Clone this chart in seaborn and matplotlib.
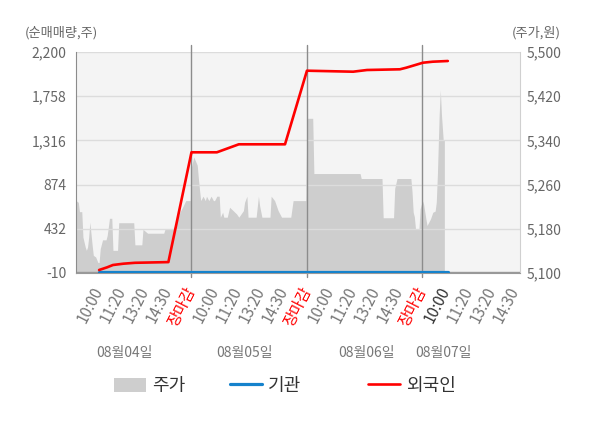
import numpy as np
import pandas as pd
import matplotlib
matplotlib.use("Agg")
import matplotlib.pyplot as plt
import seaborn as sns

# x axis: slot index, 100 slots per trading day (day 1 = 0..100, day 2 = 100..200, ...)
price_x = [0, 2, 3, 5, 6, 8, 9, 10, 11, 12, 13, 14, 15, 17, 19, 20, 21, 23, 26, 27,
           28, 29, 31, 32, 36, 37, 50, 51, 57, 58, 62, 76, 77, 84, 87, 90, 93, 95, 99,
           100, 102, 105, 106, 107, 108, 110, 112, 113, 115, 117, 119, 120, 122, 124,
           125, 127, 128, 131, 133, 136, 139, 141, 145, 146, 148, 149, 156, 158, 159,
           161, 168, 169, 172, 175, 178, 186, 188, 199, 200, 205, 206, 246, 247, 265,
           266, 275, 276, 278, 290, 291, 292, 293, 294, 297, 298, 300, 301, 303, 304,
           305, 307, 309, 311, 312, 313, 314.5, 315.5, 316.5, 318, 319]
price = [5231, 5228, 5211, 5211, 5165, 5147, 5141, 5147, 5165, 5192, 5171, 5150, 5132,
         5129, 5119, 5119, 5144, 5160, 5160, 5168, 5183, 5199, 5199, 5141, 5141, 5191,
         5191, 5151, 5151, 5179, 5172, 5172, 5179, 5179, 5192, 5210, 5222, 5231, 5231,
         5292, 5310, 5295, 5271, 5250, 5231, 5239, 5231, 5239, 5231, 5239, 5231, 5231,
         5239, 5239, 5201, 5210, 5201, 5201, 5219, 5213, 5207, 5201, 5213, 5228, 5239,
         5201, 5201, 5239, 5222, 5201, 5201, 5239, 5231, 5213, 5201, 5201, 5231, 5231,
         5380, 5380, 5280, 5280, 5271, 5271, 5200, 5200, 5253, 5271, 5271, 5247, 5210,
         5202, 5180, 5180, 5216, 5231, 5225, 5198, 5186, 5190, 5198, 5210, 5212, 5228,
         5280, 5386, 5431, 5386, 5341, 5341]

foreign_x = [20, 27, 32, 41, 51, 80, 100, 122, 141, 181, 200, 240, 252, 280.5, 286, 300.5, 309, 322]
foreign = [20, 47, 70, 83, 92, 99, 1197, 1197, 1277, 1277, 2013, 2003, 2020, 2027, 2043, 2093, 2103, 2110]

inst_x = [20, 100, 200, 300, 322]
inst = [0, 0, 0, 0, 0]

tick_x = [20, 40, 60, 80, 100, 120, 140, 160, 180, 200, 220, 240, 260, 280, 300,
          320, 340, 360, 380]
tick_labels = ["10:00", "11:20", "13:20", "14:30", "장마감"] * 3 + ["10:00", "11:20", "13:20", "14:30"]
day_lines = [100, 200, 300]
dates = ["08월04일", "08월05일", "08월06일", "08월07일"]
date_pos = [42, 146, 252, 318]

left_ticks = [-10, 432, 874, 1316, 1758, 2200]
right_ticks = [5100, 5180, 5260, 5340, 5420, 5500]

sns.set_style("white")
plt.rcParams["font.family"] = ["Noto Sans CJK KR", "DejaVu Sans"]

fig = plt.figure(figsize=(6, 4.28), dpi=100)
ax = fig.add_axes([76 / 600, 1 - 273 / 428, 444 / 600, 221 / 428])
ax2 = ax.twinx()
ax.set_zorder(ax2.get_zorder() + 1)
ax.patch.set_visible(False)
ax2.patch.set_visible(True)
ax2.set_facecolor("#f4f4f4")

# price area on the right axis
area = ax2.fill_between(price_x, price, 5100, color="#cecece", linewidth=0, label="주가")
ax2.set_ylim(5100, 5500)
ax2.set_yticks(right_ticks)
ax2.set_yticklabels([f"{v:,}" for v in right_ticks])
ax2.tick_params(axis="y", length=0, pad=5, labelsize=10, labelcolor="#666666")

# net buying lines on the left axis
ax.axhline(0, color="#999999", linewidth=1, zorder=2)
sns.lineplot(x=inst_x, y=inst, ax=ax, color="#1582cc", linewidth=2.3, label="기관", zorder=3)
sns.lineplot(x=foreign_x, y=foreign, ax=ax, color="#ff0000", linewidth=1.9, label="외국인", zorder=4)
if ax.get_legend():
    ax.get_legend().remove()

ax.set_ylim(-10, 2200)
ax.set_xlim(0, 384.5)
ax.set_yticks(left_ticks)
ax.set_yticklabels([f"{v:,}" for v in left_ticks])
ax.tick_params(axis="y", length=0, pad=7, labelsize=10, labelcolor="#666666")
ax.set_xticks(tick_x)
ax.set_xticklabels(tick_labels, rotation=63, ha="right", va="center", rotation_mode="anchor")
ax.tick_params(axis="x", length=0, pad=11, labelsize=11, labelcolor="#777777")
for i, lab in enumerate(ax.get_xticklabels()):
    if tick_labels[i] == "장마감":
        lab.set_color("#ff0000")
    elif i == 15:
        lab.set_color("#333333")
ax.grid(axis="y", color="#dcdcdc", linewidth=1, zorder=0)
ax.grid(axis="x", visible=False)
for x in day_lines:
    ax.axvline(x, ymin=-0.02, ymax=1.03, color="#8c8c8c", linewidth=1, clip_on=False, zorder=1)

for s in ["top", "right"]:
    ax.spines[s].set_visible(False)
for s in ["top", "left", "bottom"]:
    ax2.spines[s].set_visible(False)
ax.spines["left"].set_color("#8c8c8c")
ax.spines["bottom"].set_color("#999999")
ax2.spines["right"].set_color("#d0d0d0")
ax.set_xlabel("")
ax.set_ylabel("")
ax2.set_ylabel("")

for d, p in zip(dates, date_pos):
    ax.text(p, -0.362, d, transform=ax.get_xaxis_transform(), ha="center", va="center",
            fontsize=10, color="#777777")

fig.text(61 / 600, 1 - 33 / 428, "(순매매량,주)", ha="center", va="center", fontsize=9.5, color="#666666")
fig.text(536 / 600, 1 - 33 / 428, "(주가,원)", ha="center", va="center", fontsize=9.5, color="#666666")

# legend: three items at their own positions
handles = [area] + ax.get_lines()[1:3]
labels = ["주가", "기관", "외국인"]
leg_x = [114 / 600, 230 / 600, 368 / 600]
for h, lab, lx in zip(handles, labels, leg_x):
    leg = fig.legend([h], [lab], loc="center left", bbox_to_anchor=(lx, 1 - 386 / 428),
                     frameon=False, fontsize=13, handlelength=1.76, handleheight=0.8,
                     handletextpad=0.35, borderpad=0, borderaxespad=0)
    for t in leg.get_texts():
        t.set_color("#333333")

fig.savefig("out.png", dpi=100)
